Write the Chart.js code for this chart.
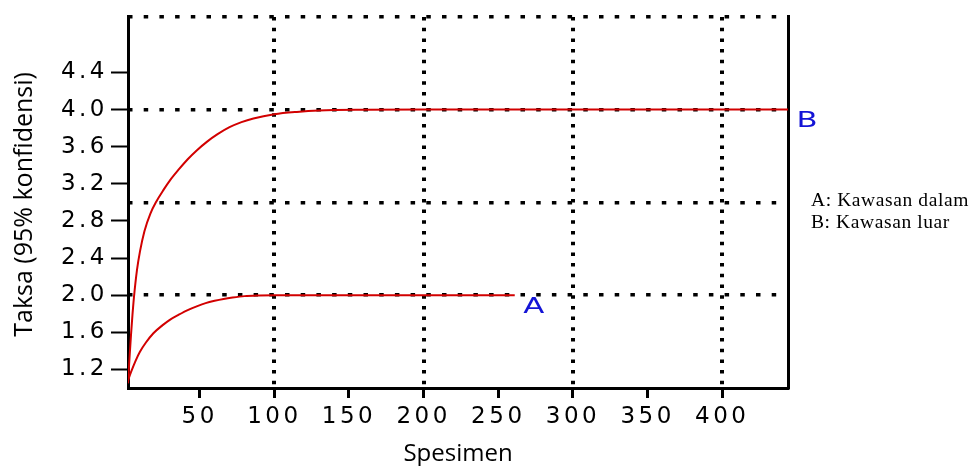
<!DOCTYPE html>
<html>
<head>
<meta charset="utf-8">
<script src="https://cdn.jsdelivr.net/npm/chart.js@4.4.0/dist/chart.umd.min.js"></script>
<style>
html, body { margin: 0; padding: 0; background: #fff; }
#wrap { width: 971px; height: 466px; position: relative; }
</style>
</head>
<body>
<div id="wrap"><canvas id="chart"></canvas></div>
<script>
// curve A (Kawasan dalam)
var specimensA = [2, 4, 7, 10, 14, 19, 25, 30, 36, 42, 48, 54, 60, 66, 72, 80, 90, 100, 130, 180, 261];
var taxaA      = [1.08, 1.17, 1.29, 1.39, 1.49, 1.59, 1.675, 1.735, 1.79, 1.84, 1.88, 1.915, 1.94, 1.96, 1.975, 1.99, 1.997, 2.0, 2.0, 2.0, 2.0];
// curve B (Kawasan luar)
var specimensB = [2, 3, 4, 5, 6, 8, 10, 13, 17, 21, 26, 30, 36, 42, 48, 55, 62, 70, 78, 86, 100, 115, 130, 160, 200, 300, 444];
var taxaB      = [1.05, 1.32, 1.57, 1.79, 1.98, 2.27, 2.47, 2.69, 2.88, 3.01, 3.14, 3.235, 3.355, 3.465, 3.56, 3.655, 3.735, 3.81, 3.865, 3.905, 3.95, 3.975, 3.99, 3.998, 4.0, 4.0, 4.0];

var xTicks = [50, 100, 150, 200, 250, 300, 350, 400];
var xGrid  = [100, 200, 300, 400];
var yTicks = [1.2, 1.6, 2.0, 2.4, 2.8, 3.2, 3.6, 4.0, 4.4];
var yGrid  = [2, 3, 4, 5];

var seriesLabels = ['A', 'B'];
var legendLines = ['A: Kawasan dalam', 'B: Kawasan luar'];
var xTitle = 'Spesimen';
var yTitle = 'Taksa (95% konfidensi)';

function pts(xs, ys) {
	return xs.map(function(x, i){ return {x: x, y: ys[i]}; });
}

var tickFont = {family: 'DejaVu Sans', size: 23};

var textPlugin = {
	id: 'texts',
	beforeDraw: function(chart){
		chart.ctx.letterSpacing = '3.5px';
	},
	afterDraw: function(chart){
		var ctx = chart.ctx;
		var area = chart.chartArea;
		var xs = chart.scales.x, ys = chart.scales.y;
		ctx.save();
		ctx.letterSpacing = '0px';
		ctx.fillStyle = '#000';
		ctx.textAlign = 'center';
		ctx.textBaseline = 'middle';
		ctx.font = '24px "Open Sans"';
		ctx.fillText(xTitle, (area.left + area.right) / 2, 454);
		ctx.save();
		ctx.font = '25px "Open Sans"';
		ctx.translate(25, (area.top + area.bottom) / 2 + 2);
		ctx.rotate(-Math.PI / 2);
		ctx.fillText(yTitle, 0, 0);
		ctx.restore();

		// series labels, stretched like the original
		ctx.fillStyle = '#1414d6';
		ctx.font = '22px "DejaVu Sans"';
		var endA = specimensA[specimensA.length - 1];
		var posA = [xs.getPixelForValue(endA) + 19, ys.getPixelForValue(taxaA[taxaA.length - 1]) + 12];
		var posB = [area.right + 19, ys.getPixelForValue(taxaB[taxaB.length - 1]) + 12];
		[posA, posB].forEach(function(p, i){
			ctx.save();
			ctx.translate(p[0], p[1]);
			ctx.scale(1.4, 1);
			ctx.fillText(seriesLabels[i], 0, 0);
			ctx.restore();
		});

		// legend text
		ctx.fillStyle = '#000';
		ctx.letterSpacing = '0.6px';
		ctx.font = '19.5px "Liberation Serif"';
		ctx.textAlign = 'left';
		ctx.textBaseline = 'alphabetic';
		ctx.fillText(legendLines[0], 811, 206);
		ctx.fillText(legendLines[1], 811, 228);
		ctx.restore();
	}
};

new Chart(document.getElementById('chart'), {
	type: 'line',
	data: {
		datasets: [
			{label: 'A', data: pts(specimensA, taxaA), borderColor: '#d20000', borderWidth: 2, pointRadius: 0, cubicInterpolationMode: 'monotone', fill: false},
			{label: 'B', data: pts(specimensB, taxaB), borderColor: '#d20000', borderWidth: 2, pointRadius: 0, cubicInterpolationMode: 'monotone', fill: false}
		]
	},
	options: {
		responsive: true,
		maintainAspectRatio: false,
		animation: false,
		layout: {padding: 0},
		plugins: {legend: {display: false}, tooltip: {enabled: false}},
		scales: {
			x: {
				type: 'linear', position: 'bottom', min: 2, max: 444,
				afterBuildTicks: function(s){ s.ticks = xTicks.map(function(v){ return {value: v}; }); },
				afterFit: function(s){ s.height = 78; },
				grid: {drawOnChartArea: false, drawTicks: true, tickLength: 10, tickWidth: 3, tickColor: '#000'},
				border: {display: true, color: '#000', width: 3},
				ticks: {color: '#000', font: tickFont, padding: 5, maxRotation: 0, autoSkip: false}
			},
			x2: {
				type: 'linear', position: 'top', min: 2, max: 444,
				afterBuildTicks: function(s){ s.ticks = xGrid.map(function(v){ return {value: v}; }); },
				afterFit: function(s){ s.height = 13; },
				grid: {color: '#000', lineWidth: 4, drawTicks: false},
				border: {display: false, dash: [3.5, 7.2]},
				ticks: {display: false}
			},
			y: {
				type: 'linear', position: 'left', min: 1, max: 5,
				afterBuildTicks: function(s){ s.ticks = yTicks.map(function(v){ return {value: v}; }); },
				afterFit: function(s){ s.width = 128; },
				grid: {drawOnChartArea: false, drawTicks: true, tickLength: 17, tickWidth: 2, tickColor: '#000'},
				border: {display: true, color: '#000', width: 3},
				ticks: {color: '#000', font: tickFont, padding: 3, autoSkip: false,
					callback: function(v){ return v.toFixed(1); }}
			},
			y2: {
				type: 'linear', position: 'right', min: 1, max: 5,
				afterBuildTicks: function(s){ s.ticks = yGrid.map(function(v){ return {value: v}; }); },
				afterFit: function(s){ s.width = 183; },
				grid: {color: '#000', lineWidth: 3.5, drawTicks: false},
				border: {display: true, color: '#000', width: 3, dash: [4.5, 11.2]},
				ticks: {display: false}
			}
		}
	},
	plugins: [textPlugin]
});
</script>
</body>
</html>
